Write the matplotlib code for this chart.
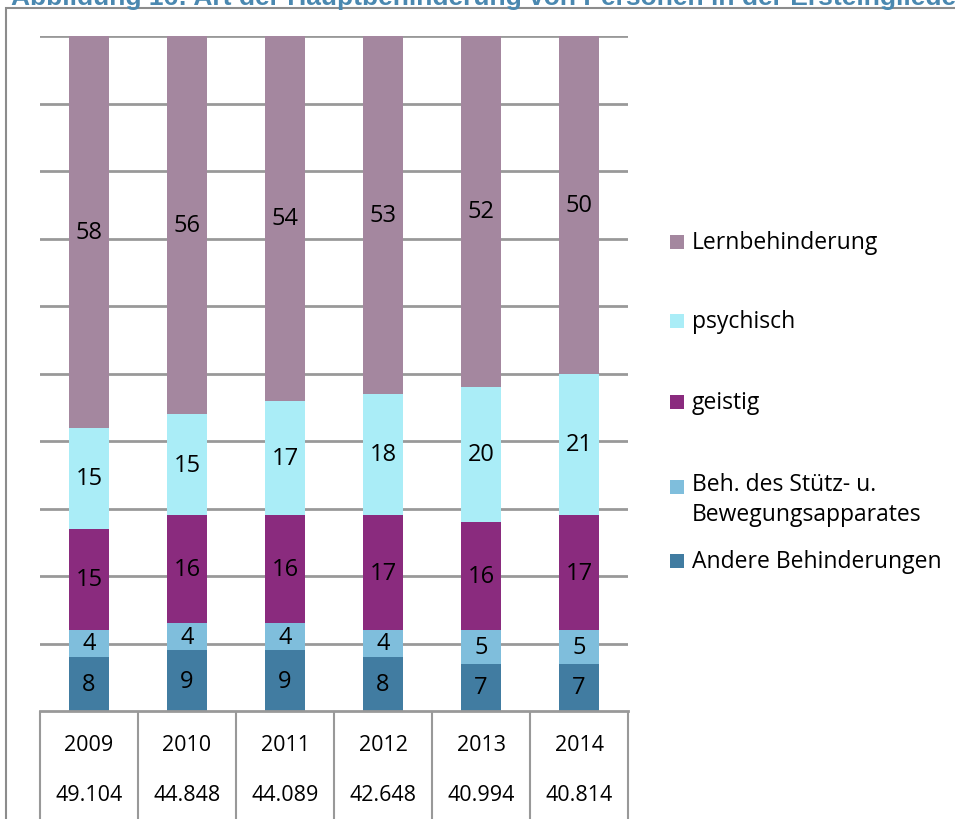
import matplotlib
matplotlib.use("Agg")
import matplotlib.pyplot as plt
from matplotlib.patches import Rectangle
import numpy as np

years = ["2009", "2010", "2011", "2012", "2013", "2014"]
totals = ["49.104", "44.848", "44.089", "42.648", "40.994", "40.814"]
series_names = ["Andere Behinderungen", "Beh. des Stütz- u.\nBewegungsapparates",
                "geistig", "psychisch", "Lernbehinderung"]
andere = [8, 9, 9, 8, 7, 7]
stuetz = [4, 4, 4, 4, 5, 5]
geistig = [15, 16, 16, 17, 16, 17]
psychisch = [15, 15, 17, 18, 20, 21]
lern = [58, 56, 54, 53, 52, 50]
colors = ["#417CA1", "#7FBEDC", "#8A2B7E", "#AAEDF7", "#A4879F"]

plt.rcParams['font.family'] = ['Open Sans', 'DejaVu Sans']

W, H = 955, 820
fig = plt.figure(figsize=(W / 100, H / 100), dpi=100)

# outer frame
fig.patches.append(Rectangle((5.5 / W, -0.1), 1.2, (H - 9) / H + 0.1,
                             transform=fig.transFigure, fill=False,
                             edgecolor="#8c8c8c", linewidth=1.5))
fig.text(11 / W, 1 - 5 / H, "Abbildung 16: Art der Hauptbehinderung von Personen in der Ersteingliederung",
         family="Liberation Sans", fontweight="bold", fontsize=19, color="#4A88B0",
         va="baseline", ha="left")

ax = fig.add_axes([40 / W, (H - 712) / H, 588 / W, 675 / H])
x = np.arange(len(years))
data = [andere, stuetz, geistig, psychisch, lern]
bottom = np.zeros(len(years))
for vals, col in zip(data, colors):
    v = np.array(vals, dtype=float)
    ax.bar(x, v, bottom=bottom, width=0.4, color=col, zorder=3)
    for xi, b, vi in zip(x, bottom, v):
        ax.text(xi, b + vi / 2, f"{int(vi)}", ha="center", va="center",
                fontsize=17, color="black", zorder=4)
    bottom += v

ax.set_xlim(-0.5, len(years) - 0.5)
ax.set_ylim(0, 100)
ax.set_yticks(np.arange(10, 101, 10))
ax.grid(axis="y", color="#999999", linewidth=2, zorder=0)
ax.set_xticks([])
ax.tick_params(left=False, labelleft=False)
for s in ["top", "right", "left"]:
    ax.spines[s].set_visible(False)
ax.spines["bottom"].set_color("#999999")
ax.spines["bottom"].set_linewidth(2)
ax.spines["bottom"].set_zorder(5)

# data table below axis
ax.vlines(np.arange(-0.5, len(years)), -20, 0, colors="#999999", linewidth=1.5,
          clip_on=False)
for xi, yr, tot in zip(x, years, totals):
    ax.text(xi, -(746 - 712) / 6.75, yr, ha="center", va="center", fontsize=15.5,
            clip_on=False)
    ax.text(xi, -(796 - 712) / 6.75, tot, ha="center", va="center", fontsize=15.5,
            clip_on=False)

# legend
leg_y = [243, 322, 403, 500, 562]
order = [4, 3, 2, 1, 0]
for yy, idx in zip(leg_y, order):
    name = series_names[idx]
    col = colors[idx]
    sq_y = yy if "\n" not in name else yy - 12
    fig.patches.append(Rectangle((670 / W, 1 - (sq_y + 7) / H), 14 / W, 14 / H,
                                 transform=fig.transFigure, facecolor=col,
                                 edgecolor="none"))
    fig.text(692 / W, 1 - yy / H, name, ha="left", va="center", fontsize=16.5,
             linespacing=1.3)

fig.savefig("out.png", dpi=100)
